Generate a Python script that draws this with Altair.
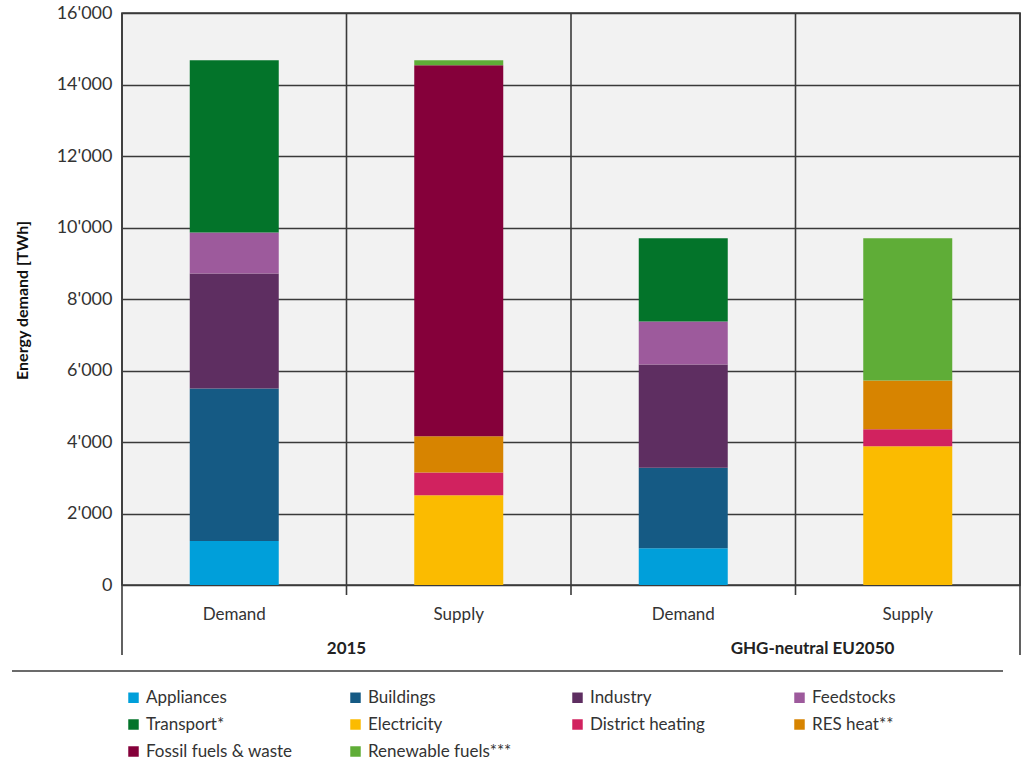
import altair as alt
import pandas as pd

FONT = "Lato"

bars = ["2015|Demand", "2015|Supply", "2050|Demand", "2050|Supply"]
demand_series = ["Appliances", "Buildings", "Industry", "Feedstocks", "Transport*"]
supply_series = ["Electricity", "District heating", "RES heat**", "Fossil fuels & waste", "Renewable fuels***"]

demand_2015 = [1230, 4270, 3210, 1150, 4820]
supply_2015 = [2510, 640, 1010, 10380, 140]
demand_2050 = [1030, 2250, 2890, 1200, 2330]
supply_2050 = [3880, 480, 1360, 0, 3980]

series_order = ["Appliances", "Buildings", "Industry", "Feedstocks", "Transport*",
                "Electricity", "District heating", "RES heat**", "Fossil fuels & waste", "Renewable fuels***"]
series_colors = ["#009fda", "#155a84", "#5e2e61", "#9d5a9c", "#03742a",
                 "#fbbb00", "#d1225f", "#d78400", "#85003a", "#5fad37"]

group_labels = ["2015", "GHG-neutral EU2050"]
group_anchor = ["2015|Demand", "2050|Demand"]
y_ticks = [0, 2000, 4000, 6000, 8000, 10000, 12000, 14000, 16000]

rows = []
for bar, names, vals in [
    (bars[0], demand_series, demand_2015),
    (bars[1], supply_series, supply_2015),
    (bars[2], demand_series, demand_2050),
    (bars[3], supply_series, supply_2050),
]:
    for i, (n, v) in enumerate(zip(names, vals)):
        rows.append({"bar": bar, "series": n, "value": v, "idx": i})
df = pd.DataFrame(rows)

W, H = 898, 572

xscale = alt.Scale(domain=bars, paddingInner=0, paddingOuter=0)

bars_layer = alt.Chart(df).mark_bar(size=89).encode(
    x=alt.X("bar:N", scale=xscale, sort=bars,
            axis=alt.Axis(title=None, labelExpr="split(datum.value, '|')[1]", labelAngle=0,
                          ticks=False, domain=False, grid=False, labelPadding=21,
                          labelFontSize=17, labelFont=FONT, labelColor="#333")),
    y=alt.Y("value:Q", stack="zero",
            scale=alt.Scale(domain=[0, 16000], nice=False),
            axis=alt.Axis(title="Energy demand [TWh]", values=y_ticks,
                          labelExpr="replace(format(datum.value, ','), ',', \"'\")",
                          ticks=False, domain=False, grid=True, gridColor="#3a3a3a", gridWidth=1.6,
                          labelFontSize=18, labelFont=FONT, labelColor="#333", labelPadding=10,
                          titleFont=FONT, titleFontSize=16, titleFontWeight="bold", titleColor="#111",
                          titleX=-100, titleY=287, titleAngle=-90, titleAlign="center",
                          titleBaseline="middle")),
    color=alt.Color("series:N", scale=alt.Scale(domain=series_order, range=series_colors),
                    legend=alt.Legend(title=None, orient="none", legendX=3, legendY=676,
                                      direction="horizontal",
                                      columns=4, gridAlign="all", columnPadding=54, rowPadding=9,
                                      symbolType="square", symbolSize=110, symbolStrokeWidth=0,
                                      labelFontSize=17, labelFont=FONT, labelColor="#333")),
    order=alt.Order("idx:Q"),
)

sep_df = pd.DataFrame({"bar": bars[1:]})
vgrid = alt.Chart(sep_df).mark_rule(color="#3a3a3a", strokeWidth=1.6).encode(
    x=alt.X("bar:N", scale=xscale, sort=bars, bandPosition=0),
    y=alt.value(0),
    y2=alt.value(H + 10),
)

grp_df = pd.DataFrame({"bar": group_anchor, "label": group_labels})


def group_text(i, dx):
    return alt.Chart(grp_df).transform_filter(
        alt.datum.label == group_labels[i]
    ).mark_text(font=FONT, fontSize=17, fontWeight="bold", color="#222",
                baseline="middle", dx=dx).encode(
        x=alt.X("bar:N", scale=xscale, sort=bars, bandPosition=1),
        y=alt.value(636),
        text="label:N",
    )


grp_text_a = group_text(0, 0)
grp_text_b = group_text(1, 17)

one = alt.Data(values=[{"a": 1}])
left_line = alt.Chart(one).mark_rule(color="#3a3a3a", strokeWidth=1.6).encode(
    x=alt.value(0), y=alt.value(0), y2=alt.value(642))
right_line = alt.Chart(one).mark_rule(color="#3a3a3a", strokeWidth=1.6).encode(
    x=alt.value(W), y=alt.value(0), y2=alt.value(642))
sep_line = alt.Chart(one).mark_rule(color="#3a3a3a", strokeWidth=1.6).encode(
    x=alt.value(-110), x2=alt.value(881), y=alt.value(658))

chart = alt.layer(bars_layer, vgrid, grp_text_a, grp_text_b, left_line, right_line, sep_line).properties(
    width=W, height=H,
    autosize=alt.AutoSizeParams(type="none"),
    padding={"left": 122, "top": 13, "right": 4, "bottom": 176},
    background="white",
).configure_view(fill="#f2f2f2", stroke="#3a3a3a", strokeWidth=1.6)

chart.save("out.html", embed_options={"renderer": "svg", "actions": False})
